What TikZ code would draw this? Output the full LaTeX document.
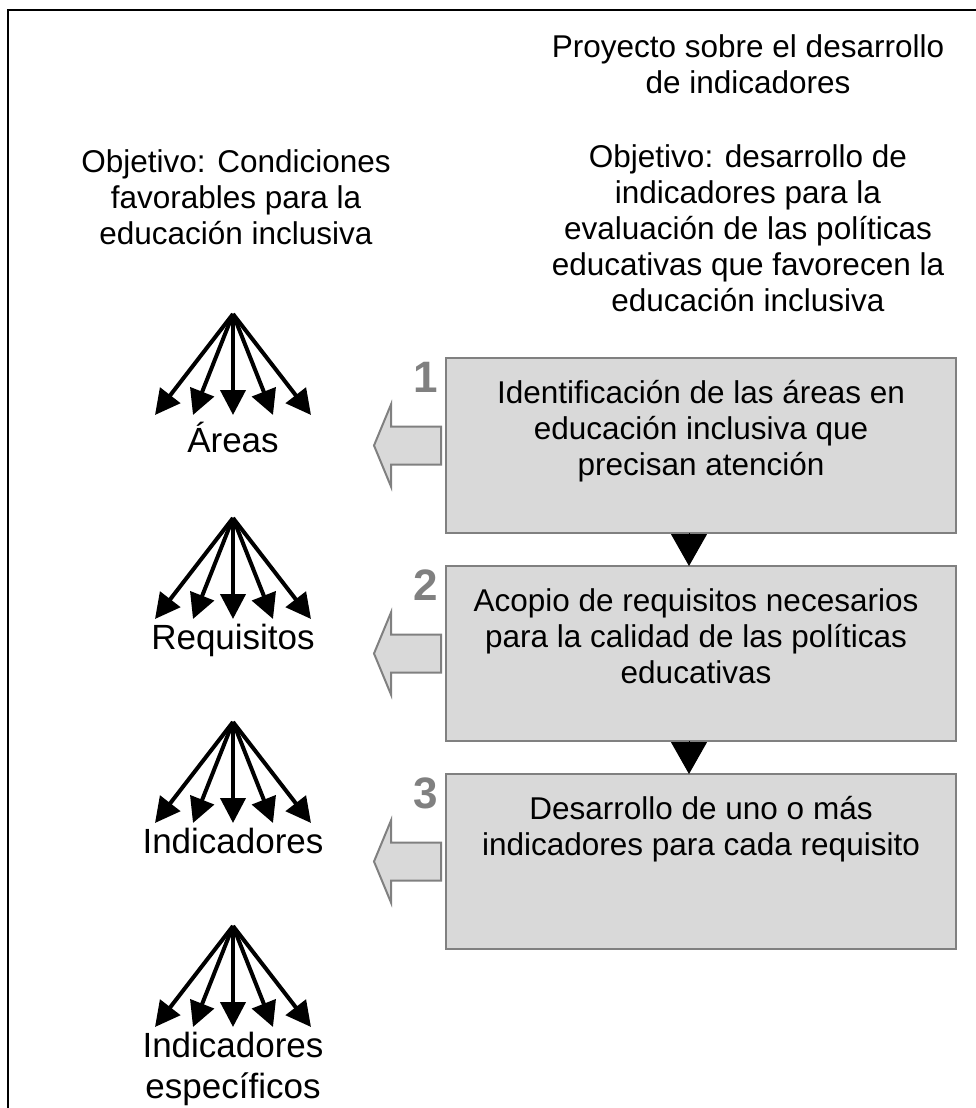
\documentclass[tikz,border=0pt]{standalone}
\usepackage{fontspec}
\setmainfont{Liberation Sans}
\usetikzlibrary{arrows.meta,calc}
\definecolor{boxfill}{RGB}{217,217,217}
\definecolor{boxline}{RGB}{128,128,128}
\definecolor{numgray}{RGB}{128,128,128}
\begin{document}
\begin{tikzpicture}[x=1pt,y=-1pt,
  txt/.style={font=\fontsize{31.5}{36}\selectfont, align=center, inner sep=0pt},
  lbl/.style={font=\fontsize{35}{41}\selectfont, align=center, inner sep=0pt},
  stepbox/.style={draw=boxline, fill=boxfill, line width=2.2pt, minimum width=510pt, minimum height=175pt, inner sep=0pt, outer sep=0pt, anchor=north west},
  num/.style={font=\fontsize{44}{44}\selectfont\bfseries, text=numgray, inner sep=0pt, anchor=north east},
  fan/.style={line width=4pt, -{Triangle[length=25pt,width=25pt]}},
  down/.style={line width=1pt, -{Triangle[length=32pt,width=36pt]}},
  blockarrow/.style={draw=boxline, fill=boxfill, line width=2pt, line join=miter}]
\useasboundingbox (0,0) rectangle (976,1108);
\clip (0,0) rectangle (976,1108);
% outer frame (cropped at right and bottom)
\draw[line width=1.6pt] (8,1130) -- (8,10) -- (995,10) -- (995,1130);

% header texts
\node[txt, anchor=north] (proj) at (748,34) {Proyecto sobre el desarrollo\\de indicadores};
\node[txt, anchor=north] (objr) at (748,144) {Objetivo: desarrollo de\\indicadores para la\\evaluación de las políticas\\educativas que favorecen la\\educación inclusiva};
\node[txt, anchor=north] (objl) at (236,149) {Objetivo: Condiciones\\favorables para la\\educación inclusiva};

% step boxes
\node[stepbox] (b1) at (446,358) {};
\node[stepbox] (b2) at (446,566) {};
\node[stepbox] (b3) at (446,774) {};
\node[txt, anchor=north] (t1) at ($(b1.north)+(0,22)$) {Identificación de las áreas en\\educación inclusiva que\\precisan atención};
\node[txt, anchor=north] (t2) at ($(b2.north)+(-5,22)$) {Acopio de requisitos necesarios\\para la calidad de las políticas\\educativas};
\node[txt, anchor=north] (t3) at ($(b3.north)+(0,22)$) {Desarrollo de uno o más\\indicadores para cada requisito};

% step numbers
\node[num] (n1) at ($(b1.north west)+(-8,4)$) {1};
\node[num] (n2) at ($(b2.north west)+(-8,4)$) {2};
\node[num] (n3) at ($(b3.north west)+(-8,4)$) {3};

% down connectors
\draw[down] ($(b1.south)+(-12,0)$) -- ($(b2.north)+(-12,0)$);
\draw[down] ($(b2.south)+(-12,0)$) -- ($(b3.north)+(-12,0)$);

% block arrows pointing left
\foreach \b in {b1,b2,b3}{
  \draw[blockarrow] ($(\b.west)+(-5,-19)$) -- ++(-50,0) -- ++(0,-22) -- ++(-17,41) -- ++(17,41) -- ++(0,-22) -- ++(50,0) -- cycle;
}

% fans
\foreach \k/\y in {1/314,2/518,3/722,4/926}{
  \coordinate (a\k) at (233,\y);
  \foreach \dx [count=\i] in {-78,-40,0,40,78}{
    \coordinate (a\k e\i) at ($(a\k)+(\dx,101)$);
    \draw[fan] (a\k) -- (a\k e\i);
  }
}

% fan labels
\node[lbl, anchor=base] (l1) at (233,452) {Áreas};
\node[lbl, anchor=base] (l2) at (233,649) {Requisitos};
\node[lbl, anchor=base] (l3) at (233,853) {Indicadores};
\node[lbl, anchor=north] (l4) at (233,1032) {Indicadores\\específicos};
\end{tikzpicture}
\end{document}
